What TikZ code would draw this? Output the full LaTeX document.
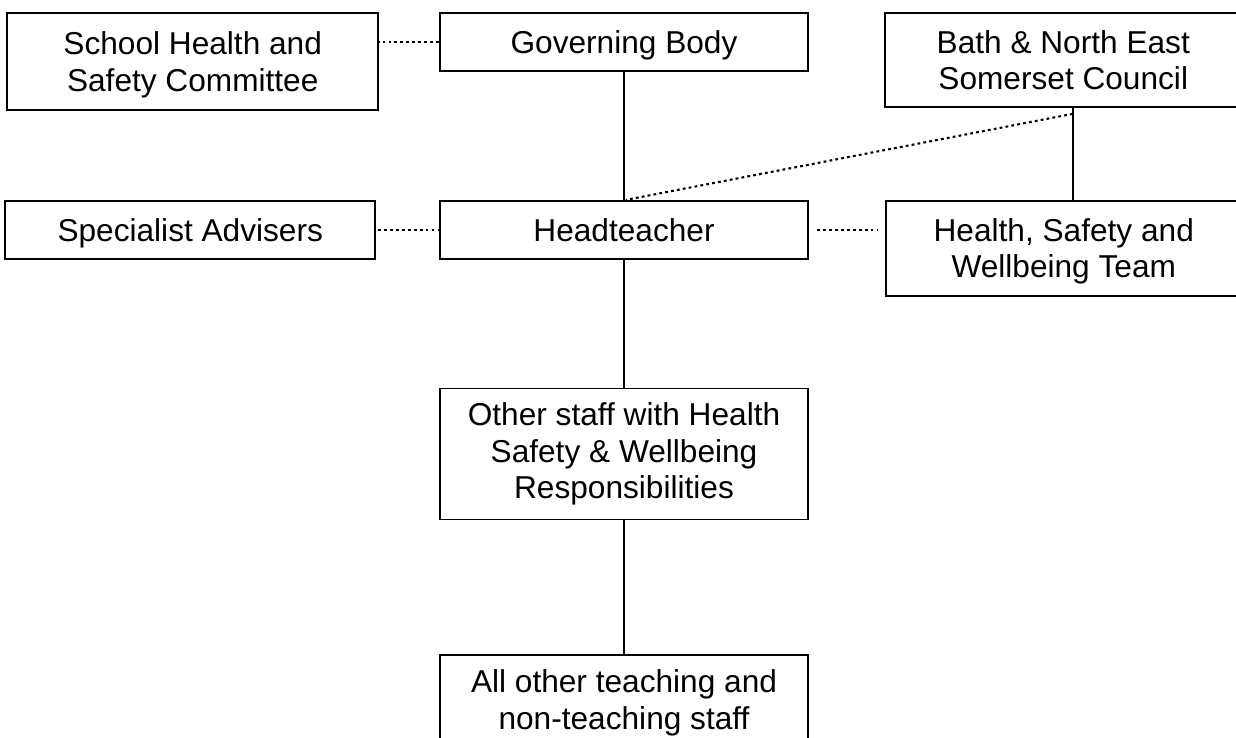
\documentclass[tikz,border=0pt]{standalone}
\usepackage{fontspec}
\setmainfont{Liberation Sans}
\usetikzlibrary{positioning, calc}

\tikzset{
  orgbox/.style={draw, line width=1pt, inner sep=0pt, align=center,
    minimum width=7.36cm, minimum height=1.16cm,
    font=\fontsize{18}{20.8}\selectfont},
  flatbox/.style={orgbox, text depth=0pt},
  solidlink/.style={line width=1pt},
  dotlink/.style={line width=1.2pt, dash pattern=on 1.6pt off 1.8pt}
}

\begin{document}
\begin{tikzpicture}
    \useasboundingbox (0,0) rectangle (24.72,-14.76);
    \clip (0,0) rectangle (24.72,-14.76);
    \node[flatbox] (gov) at (12.48,-0.84) {Governing Body};
    \node[flatbox, left=1.2cm of gov.north west, anchor=north east, minimum width=7.42cm, minimum height=1.94cm] (school) {School Health and\\Safety Committee};
    \node[orgbox, right=1.5cm of gov.north east, anchor=north west, minimum width=7.14cm, minimum height=1.88cm] (bath) {Bath \& North East\\Somerset Council};
    \node[orgbox, below=2.56cm of gov] (head) {Headteacher};
    \node[flatbox, left=1.26cm of head, minimum width=7.4cm] (spec) {Specialist Advisers};
    \node[flatbox, right=1.52cm of head.north east, anchor=north west, minimum width=7.12cm, minimum height=1.9cm] (hsw) {Health, Safety and\\Wellbeing Team};
    \node[orgbox, below=2.56cm of head, minimum height=2.62cm] (other) {Other staff with Health\\Safety \& Wellbeing\\Responsibilities};
    \node[orgbox, below=2.68cm of other, minimum height=1.9cm] (all) {All other teaching and\\non-teaching staff};
    \coordinate (bathlink) at ([xshift=0.19cm]bath.south);
    % solid lines
    \draw[solidlink] (gov) -- (head);
    \draw[solidlink] (head) -- (other);
    \draw[solidlink] (other) -- (all);
    \draw[solidlink] (bathlink) -- (bathlink |- hsw.north);
    % dotted lines
    \draw[dotlink] (gov.west) -- (gov.west -| school.east);
    \draw[dotlink, shorten <=1pt] (spec) -- (head);
    \draw[dotlink, shorten <=0.16cm, shorten >=0.14cm] (head.east) -- (head.east -| hsw.west);
    \draw[dotlink] ([yshift=-0.12cm]bathlink) -- ([xshift=0.04cm]head.north);
\end{tikzpicture}
\end{document}
